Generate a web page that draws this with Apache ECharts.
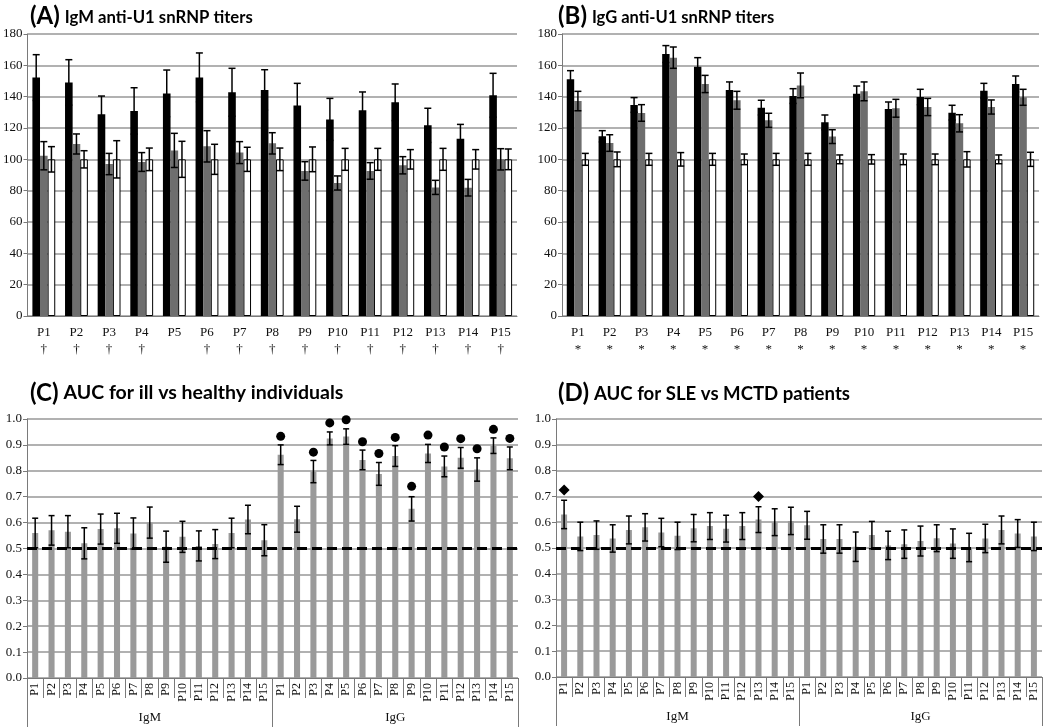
<!DOCTYPE html>
<html>
<head>
<meta charset="utf-8">
<script src="https://cdn.jsdelivr.net/npm/echarts@6/dist/echarts.min.js"></script>
<style>
html,body{margin:0;padding:0;background:#fff;}
#chart{width:1050px;height:727px;}
</style>
</head>
<body>
<div id="chart"></div>
<script>
// ---------- DATA ----------
const patients = ['P1','P2','P3','P4','P5','P6','P7','P8','P9','P10','P11','P12','P13','P14','P15'];
const groups = ['IgM','IgG'];
const marksA = ['†','†','†','†','','†','†','†','†','†','†','†','†','†','†'];
const marksB = ['*','*','*','*','*','*','*','*','*','*','*','*','*','*','*'];

// (A) IgM titers: black, grey, white bars with error half-widths
const aBlack    = [152.2,149.1,128.7,130.9,142.1,152.3,142.8,144.3,134.3,125.5,131.3,136.4,121.7,113.2,140.9];
const aBlackErr = [14.6,14.5,11.7,14.8,14.9,15.6,15.3,12.9,14.2,13.4,11.7,11.7,10.9,9.1,14.0];
const aGrey     = [102.3,109.8,97.0,98.3,105.7,108.3,104.3,110.2,92.6,84.9,92.6,96.2,82.1,81.9,100.0];
const aGreyErr  = [9.0,6.4,6.8,6.0,10.9,10.0,7.0,6.8,5.9,4.5,5.3,5.5,4.5,5.3,6.8];
const aWhite    = [100,100,100,100,100,100,100,100,100,100,100,100,100,100,100];
const aWhiteErr = [8.1,5.5,11.9,7.2,11.5,9.6,7.7,7.2,7.9,7.0,7.0,6.2,7.0,6.2,6.6];

// (B) IgG titers
const bBlack    = [151.1,114.7,134.7,167.2,159.1,144.3,133.0,140.4,123.6,141.9,132.1,139.8,129.8,143.8,148.1];
const bBlackErr = [5.5,3.6,4.7,5.4,5.8,5.1,4.7,4.7,4.7,4.9,4.5,4.9,4.7,4.7,5.1];
const bGrey     = [137.2,110.4,129.6,164.9,148.1,137.7,124.9,147.2,114.5,143.4,132.6,133.4,123.0,133.4,139.6];
const bGreyErr  = [6.2,5.3,5.3,6.8,5.5,5.7,4.5,7.9,4.4,6.0,5.7,5.5,5.5,4.5,5.1];
const bWhite    = [100,100,100,100,100,100,100,100,100,100,100,100,100,100,100];
const bWhiteErr = [3.8,4.7,3.8,4.3,3.8,3.4,3.8,3.8,2.8,3.0,3.4,3.4,4.9,2.8,4.5];

// (C) AUC ill vs healthy
const cIgM     = [0.560,0.570,0.565,0.520,0.575,0.578,0.558,0.600,0.507,0.545,0.510,0.517,0.560,0.612,0.532];
const cIgMErr  = [0.057,0.057,0.062,0.060,0.058,0.058,0.060,0.060,0.060,0.060,0.058,0.056,0.057,0.055,0.060];
const cIgG     = [0.862,0.613,0.797,0.925,0.932,0.842,0.788,0.857,0.653,0.867,0.817,0.850,0.805,0.897,0.848];
const cIgGErr  = [0.038,0.050,0.043,0.025,0.030,0.038,0.044,0.040,0.047,0.035,0.040,0.040,0.045,0.030,0.044];
const cIgMDots = [null,null,null,null,null,null,null,null,null,null,null,null,null,null,null];
const cIgGDots = [0.933,null,0.872,0.985,0.997,0.912,0.867,0.929,0.740,0.938,0.892,0.924,0.885,0.960,0.925];

// (D) AUC SLE vs MCTD
const dIgM     = [0.630,0.545,0.550,0.537,0.570,0.580,0.560,0.547,0.577,0.585,0.575,0.585,0.610,0.600,0.605];
const dIgMErr  = [0.055,0.055,0.055,0.053,0.054,0.053,0.055,0.053,0.053,0.052,0.052,0.052,0.050,0.052,0.053];
const dIgG     = [0.588,0.535,0.535,0.505,0.550,0.510,0.515,0.527,0.538,0.517,0.502,0.537,0.570,0.556,0.545];
const dIgGErr  = [0.054,0.055,0.055,0.057,0.053,0.055,0.055,0.058,0.052,0.057,0.055,0.055,0.054,0.054,0.055];
const dIgMDiamonds = [0.725,null,null,null,null,null,null,null,null,null,null,null,0.700,null,null];
const dIgGDiamonds = [null,null,null,null,null,null,null,null,null,null,null,null,null,null,null];

const chanceLevel = 0.5;
const titles = [
  ['(A)','IgM anti-U1 snRNP titers'],
  ['(B)','IgG anti-U1 snRNP titers'],
  ['(C)','AUC for ill vs healthy individuals'],
  ['(D)','AUC for SLE vs MCTD patients']
];

// ---------- STYLE ----------
const SERIF = '"Liberation Serif","Times New Roman",serif';
const SANS = 'Lato,"Open Sans",sans-serif';
const GRID_COLOR = '#979797';
const AXIS_COLOR = '#7a7a7a';

const catsCD = [];
groups.forEach(g => patients.forEach(p => catsCD.push(g + '|' + p)));

const grids = [
  {left: 27, right: 533, top: 34, bottom: 411},
  {left: 562, right: 11, top: 34, bottom: 411},
  {left: 27, right: 532, top: 419, bottom: 49},
  {left: 556, right: 8, top: 419, bottom: 50}
];

function titleOpt(i, left, top, sizeA, sizeB) {
  return {
    left: left, top: top,
    text: '{a|' + titles[i][0] + '} {b|' + titles[i][1] + '}',
    textStyle: {
      rich: {
        a: {fontFamily: SANS, fontWeight: 'bold', fontSize: sizeA, color: '#000', verticalAlign: 'bottom'},
        b: {fontFamily: SANS, fontWeight: 'bold', fontSize: sizeB, color: '#000', verticalAlign: 'bottom', padding: [0,0,2,0]}
      }
    }
  };
}

function yAxisOpt(grid, max, interval, fmt) {
  return {
    type: 'value', gridIndex: grid, min: 0, max: max, interval: interval,
    axisLine: {show: true, lineStyle: {color: AXIS_COLOR, width: 1}},
    axisTick: {show: true, length: 4, lineStyle: {color: AXIS_COLOR}},
    axisLabel: {fontFamily: SERIF, fontSize: 13, color: '#111', margin: 5, formatter: fmt},
    splitLine: {show: true, lineStyle: {color: GRID_COLOR, width: 1.5}}
  };
}

function errSeries(name, grid, vals, errs, slot, nSlots, gapFrac, capHalf) {
  return {
    type: 'custom', name: name, xAxisIndex: grid, yAxisIndex: grid, z: 5,
    silent: true,
    data: vals.map((v, i) => v == null ? null : [i, v, errs[i]]).filter(d => d),
    renderItem: function (params, api) {
      const idx = api.value(0), v = api.value(1), e = api.value(2);
      const band = api.size([1, 0])[0];
      const barW = band * (1 - gapFrac) / nSlots;
      const cx = api.coord([idx, v])[0] + (slot - (nSlots - 1) / 2) * barW;
      const yt = api.coord([idx, v + e])[1];
      const yb = api.coord([idx, v - e])[1];
      const st = {stroke: '#000', lineWidth: 1.5};
      return {
        type: 'group',
        children: [
          {type: 'line', shape: {x1: cx, y1: yt, x2: cx, y2: yb}, style: st},
          {type: 'line', shape: {x1: cx - capHalf, y1: yt, x2: cx + capHalf, y2: yt}, style: st},
          {type: 'line', shape: {x1: cx - capHalf, y1: yb, x2: cx + capHalf, y2: yb}, style: st}
        ]
      };
    }
  };
}

function barSeries(name, grid, vals, color, border, opts) {
  return Object.assign({
    type: 'bar', name: name, xAxisIndex: grid, yAxisIndex: grid, data: vals,
    itemStyle: {color: color, borderColor: border || color, borderWidth: border ? 1 : 0},
    silent: true, z: 2
  }, opts || {});
}

function indexPairs(arr, offset) {
  const out = [];
  arr.forEach((v, i) => { if (v != null) out.push([i + offset, v]); });
  return out;
}

// ---------- AXES ----------
const xAxes = [
  {
    type: 'category', gridIndex: 0, data: patients,
    axisLine: {lineStyle: {color: AXIS_COLOR}},
    axisTick: {length: 5, interval: 0, lineStyle: {color: AXIS_COLOR}},
    axisLabel: {fontFamily: SERIF, fontSize: 13, color: '#111', margin: 8, lineHeight: 17, interval: 0,
      formatter: (v, i) => v + '\n' + marksA[i]}
  },
  {
    type: 'category', gridIndex: 1, data: patients,
    axisLine: {lineStyle: {color: AXIS_COLOR}},
    axisTick: {length: 5, interval: 0, lineStyle: {color: AXIS_COLOR}},
    axisLabel: {fontFamily: SERIF, fontSize: 13, color: '#111', margin: 8, lineHeight: 17, interval: 0,
      formatter: (v, i) => v + '\n' + marksB[i]}
  }
];
[2, 3].forEach(g => {
  xAxes.push({
    type: 'category', gridIndex: g, data: catsCD,
    axisLine: {show: true, lineStyle: {color: AXIS_COLOR}},
    axisTick: {show: true, length: 20, interval: 0, lineStyle: {color: AXIS_COLOR, width: 1}},
    axisLabel: {fontFamily: SERIF, fontSize: 12, color: '#111', rotate: 90, margin: 5, interval: 0,
      formatter: v => v.split('|')[1]}
  });
  xAxes.push({
    type: 'category', gridIndex: g, data: groups, position: 'bottom', offset: 0,
    axisLine: {show: true, lineStyle: {color: AXIS_COLOR}},
    axisTick: {show: true, length: 49, interval: 0, lineStyle: {color: AXIS_COLOR, width: 1}},
    axisLabel: {fontFamily: SERIF, fontSize: 13, color: '#111', margin: 33, interval: 0},
    splitLine: {show: false}
  });
});
// xAxis indices: 0->A,1->B,2->C main,3->C group,4->D main,5->D group

const yAxes = [
  yAxisOpt(0, 180, 20, v => v),
  yAxisOpt(1, 180, 20, v => v),
  yAxisOpt(2, 1, 0.1, v => v.toFixed(1)),
  yAxisOpt(3, 1, 0.1, v => v.toFixed(1))
];

// ---------- SERIES ----------
const series = [];
const GAP_AB = 0.3;
const abOpts = {barGap: '0%', barCategoryGap: '30%'};
[[0, aBlack, aBlackErr, aGrey, aGreyErr, aWhite, aWhiteErr],
 [1, bBlack, bBlackErr, bGrey, bGreyErr, bWhite, bWhiteErr]].forEach(r => {
  const g = r[0];
  series.push(barSeries('black', g, r[1], '#000', null, abOpts));
  series.push(barSeries('grey', g, r[3], '#6e6e6e', null, abOpts));
  series.push(barSeries('white', g, r[5], '#fff', '#000', abOpts));
  series.push(errSeries('black err', g, r[1], r[2], 0, 3, GAP_AB, 3.5));
  series.push(errSeries('grey err', g, r[3], r[4], 1, 3, GAP_AB, 3.5));
  series.push(errSeries('white err', g, r[5], r[6], 2, 3, GAP_AB, 3.5));
});

const GAP_CD = 0.63;
[[2, 2, cIgM, cIgMErr, cIgG, cIgGErr, cIgMDots, cIgGDots, 'circle', 9],
 [3, 4, dIgM, dIgMErr, dIgG, dIgGErr, dIgMDiamonds, dIgGDiamonds, 'diamond', 11]].forEach(r => {
  const g = r[0], xa = r[1];
  const vals = r[2].concat(r[4]);
  const errs = r[3].concat(r[5]);
  series.push({
    type: 'bar', name: 'AUC', xAxisIndex: xa, yAxisIndex: g, data: vals,
    barCategoryGap: (GAP_CD * 100) + '%', itemStyle: {color: '#9a9a9a'}, silent: true, z: 2
  });
  const es = errSeries('AUC err', g, vals, errs, 0, 1, GAP_CD, 3);
  es.xAxisIndex = xa;
  series.push(es);
  series.push({
    type: 'line', name: 'chance', xAxisIndex: xa, yAxisIndex: g, data: [], z: 6, silent: true,
    markLine: {
      silent: true, symbol: 'none', label: {show: false}, animation: false,
      lineStyle: {color: '#000', width: 3, type: [10, 5], opacity: 1},
      data: [{yAxis: chanceLevel}]
    }
  });
  series.push({
    type: 'scatter', name: 'marker', xAxisIndex: xa, yAxisIndex: g, z: 7, silent: true,
    symbol: r[8], symbolSize: r[9], itemStyle: {color: '#000', opacity: 1},
    data: indexPairs(r[6], 0).concat(indexPairs(r[7], patients.length))
  });
});

const chart = echarts.init(document.getElementById('chart'), null, {renderer: 'canvas'});
chart.setOption({
  animation: false,
  backgroundColor: '#fff',
  title: [
    titleOpt(0, 25, -1, 24, 16.7),
    titleOpt(1, 553, -1, 24, 16.5),
    titleOpt(2, 25, 376, 24, 19.5),
    titleOpt(3, 553, 376, 24, 18.6)
  ],
  grid: grids,
  xAxis: xAxes,
  yAxis: yAxes,
  series: series
});
</script>
</body>
</html>
